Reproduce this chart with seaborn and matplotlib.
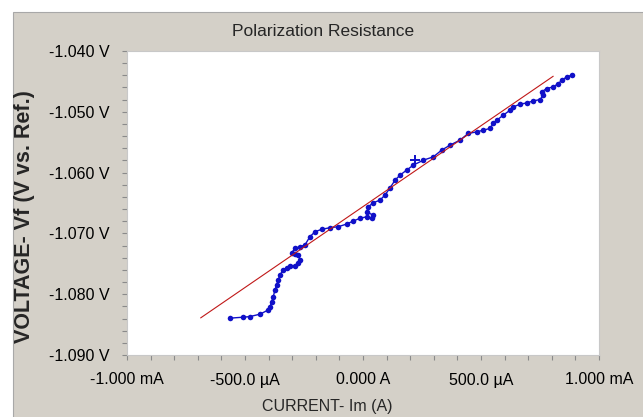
import matplotlib
matplotlib.use("Agg")
import matplotlib.pyplot as plt
import matplotlib.ticker as mticker
from matplotlib.patches import Rectangle
import seaborn as sns
import pandas as pd

# ---- data (current in µA, voltage in V) ----
current_uA = [-564, -507, -479, -436, -401, -394, -387, -380, -373, -366, -359, -352,
              -338, -323, -309, -288, -274, -267, -274, -288, -302, -288, -267, -246,
              -225, -203, -175, -140, -105, -69, -41, -13, 16, 37, 41, 16, 22, 44, 72,
              93, 114, 136, 157, 185, 213, 256, 298, 333, 369, 411, 446, 482, 510, 538,
              552, 567, 594, 623, 637, 665, 694, 722, 750, 764, 757, 778, 806, 828, 842,
              863, 884]
voltage_V = [-1.08394, -1.08378, -1.08368, -1.08328, -1.08258, -1.08204, -1.08122, -1.08039,
             -1.07929, -1.07847, -1.07765, -1.07683, -1.07601, -1.07563, -1.07535, -1.07535,
             -1.07491, -1.07437, -1.07355, -1.07338, -1.07317, -1.07245, -1.07218, -1.07190,
             -1.07054, -1.06972, -1.06933, -1.06906, -1.06890, -1.06846, -1.06796, -1.06752,
             -1.06726, -1.06752, -1.06698, -1.06644, -1.06562, -1.06496, -1.06452, -1.06370,
             -1.06255, -1.06123, -1.06041, -1.05959, -1.05877, -1.05795, -1.05741, -1.05631,
             -1.05548, -1.05466, -1.05356, -1.05330, -1.05302, -1.05274, -1.05192, -1.05138,
             -1.05056, -1.04974, -1.04920, -1.04875, -1.04854, -1.04821, -1.04798, -1.04727,
             -1.04673, -1.04617, -1.04591, -1.04535, -1.04481, -1.04427, -1.04399]

fit_current_uA = [-688, 806]
fit_voltage_V = [-1.0839, -1.04415]

cursor_current_uA = [220]
cursor_voltage_V = [-1.05795]

x_ticks_uA = [-1000, -500, 0, 500, 1000]
x_tick_labels = ["-1.000 mA", "-500.0 µA", "0.000 A", "500.0 µA", "1.000 mA"]
y_ticks_V = [-1.090, -1.080, -1.070, -1.060, -1.050, -1.040]
y_tick_labels = ["-1.090 V", "-1.080 V", "-1.070 V", "-1.060 V", "-1.050 V", "-1.040 V"]

title = "Polarization Resistance"
x_label = "CURRENT- Im (A)"
y_label = "VOLTAGE- Vf (V vs. Ref.)"

# ---- styling ----
sns.set_theme(style="white")
plt.rcParams["font.family"] = ["Liberation Sans", "DejaVu Sans"]
plt.rcParams["axes.unicode_minus"] = False

panel = "#d4d0c8"
fig = plt.figure(figsize=(6.43, 4.17), dpi=100, facecolor="white")
fig.patches.append(Rectangle((13 / 643, -0.05), 1.0, 1 - 12 / 417 + 0.05,
                             transform=fig.transFigure, facecolor=panel,
                             edgecolor="#a8a8a8", linewidth=0.8, zorder=-5))

ax = fig.add_axes([127 / 643, 1 - 355 / 417, (599 - 127) / 643, (355 - 51) / 417])
ax.set_zorder(2)
ax.set_facecolor("white")

df = pd.DataFrame({"I": current_uA, "V": voltage_V})
sns.lineplot(data=df, x="I", y="V", sort=False, estimator=None, ax=ax,
             color="#1010c8", linewidth=1.0, marker="o", markersize=4.0,
             markeredgewidth=0, zorder=3)
fit = pd.DataFrame({"I": fit_current_uA, "V": fit_voltage_V})
sns.lineplot(data=fit, x="I", y="V", sort=False, estimator=None, ax=ax,
             color="#c01818", linewidth=0.8, zorder=4)
cur = pd.DataFrame({"I": cursor_current_uA, "V": cursor_voltage_V})
sns.scatterplot(data=cur, x="I", y="V", ax=ax, marker="+", s=60,
                color="#1010c8", linewidth=1.4, zorder=5)

ax.set_xlim(-1000, 1000)
ax.set_ylim(-1.090, -1.040)
ax.set_xticks(x_ticks_uA)
ax.set_xticklabels(x_tick_labels)
ax.set_yticks(y_ticks_V)
ax.set_yticklabels(y_tick_labels)
ax.xaxis.set_minor_locator(mticker.MultipleLocator(100))
ax.yaxis.set_minor_locator(mticker.MultipleLocator(0.002))
ax.tick_params(axis="both", which="both", direction="out", color="#8a8a8a",
               width=0.8, length=3.6, pad=9, labelsize=11.5, labelcolor="black",
               bottom=True, left=True)
for s in ax.spines.values():
    s.set_color("#c8c8c8")
    s.set_linewidth(0.8)
ax.set_xlabel("")
ax.set_ylabel("")

fig.text(323 / 643, 1 - 32 / 417, title, ha="center", va="center", fontsize=12.5)
fig.text(327 / 643, 1 - 407 / 417, x_label, ha="center", va="center", fontsize=11.5)
fig.text(25 / 643, 1 - 216.5 / 417, y_label, ha="center", va="center", rotation=90,
         fontsize=15.5, fontweight="bold")

fig.savefig("out.png", dpi=100, facecolor="white")
